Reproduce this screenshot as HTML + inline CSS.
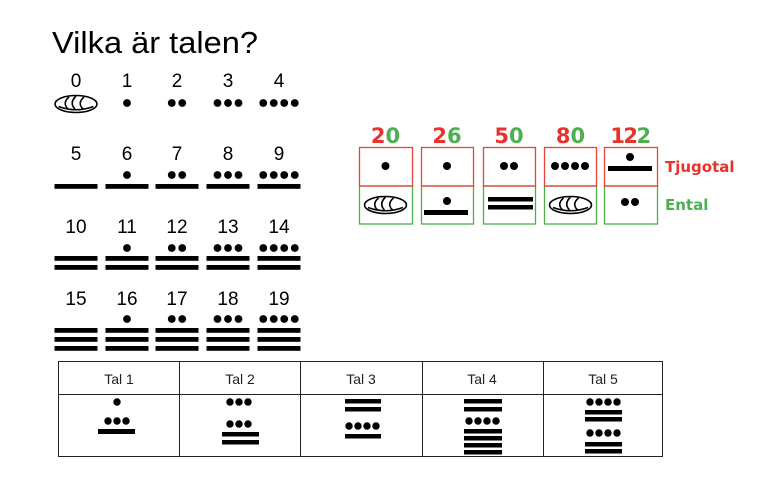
<!DOCTYPE html>
<html><head><meta charset="utf-8"><style>
html,body{margin:0;padding:0;background:#fff;}
svg{display:block;}
</style></head><body>
<svg width="782" height="486" viewBox="0 0 782 486" xmlns="http://www.w3.org/2000/svg">
<defs>
<g id="shell" fill="none" stroke="#000" stroke-width="1.6">
<ellipse cx="0" cy="0" rx="21" ry="8.5"/>
<path d="M-17.5,2.5 Q0,9 17.5,2.5"/>
<path d="M-7,-7 Q-14,-1 -8,5"/>
<path d="M0,-8 Q-7,-1 -1,5"/>
<path d="M8,-7 Q1,-1 7,5"/>
</g>
</defs>
<text x="52" y="53" font-family="Liberation Sans, sans-serif" font-size="31" textLength="206" lengthAdjust="spacingAndGlyphs">Vilka är talen?</text>

<g font-family="Liberation Sans, sans-serif" font-size="19" text-anchor="middle" fill="#000">
<text x="76" y="87">0</text><text x="127" y="87">1</text><text x="177" y="87">2</text><text x="228" y="87">3</text><text x="279" y="87">4</text>
<text x="76" y="160">5</text><text x="127" y="160">6</text><text x="177" y="160">7</text><text x="228" y="160">8</text><text x="279" y="160">9</text>
<text x="76" y="233">10</text><text x="127" y="233">11</text><text x="177" y="233">12</text><text x="228" y="233">13</text><text x="279" y="233">14</text>
<text x="76" y="305">15</text><text x="127" y="305">16</text><text x="177" y="305">17</text><text x="228" y="305">18</text><text x="279" y="305">19</text>
</g>
<use href="#shell" x="76" y="104"/>
<g fill="#000">
<g id="dr1">
<circle cx="127" cy="103" r="3.9"/>
<circle cx="171.75" cy="103" r="3.9"/><circle cx="182.25" cy="103" r="3.9"/>
<circle cx="217.5" cy="103" r="3.9"/><circle cx="228" cy="103" r="3.9"/><circle cx="238.5" cy="103" r="3.9"/>
<circle cx="263.25" cy="103" r="3.9"/><circle cx="273.75" cy="103" r="3.9"/><circle cx="284.25" cy="103" r="3.9"/><circle cx="294.75" cy="103" r="3.9"/>
</g>
<use href="#dr1" y="72"/>
<use href="#dr1" y="145"/>
<use href="#dr1" y="216"/>
<g id="br">
<rect x="54.5" y="184" width="43" height="4.8"/><rect x="105.5" y="184" width="43" height="4.8"/><rect x="155.5" y="184" width="43" height="4.8"/><rect x="206.5" y="184" width="43" height="4.8"/><rect x="257.5" y="184" width="43" height="4.8"/>
</g>
<use href="#br" y="72"/><use href="#br" y="81"/>
<use href="#br" y="144"/><use href="#br" y="153"/><use href="#br" y="162"/>
</g>

<g fill="none" stroke-width="1.3">
<g stroke="#4caf50">
<rect x="359.5" y="186" width="53" height="38"/><rect x="421.5" y="186" width="52" height="38"/><rect x="483.5" y="186" width="52" height="38"/><rect x="544.5" y="186" width="52" height="38"/><rect x="604.5" y="186" width="53" height="38"/>
</g>
<g stroke="#e8433a">
<rect x="359.5" y="147.5" width="53" height="38.5"/><rect x="421.5" y="147.5" width="52" height="38.5"/><rect x="483.5" y="147.5" width="52" height="38.5"/><rect x="544.5" y="147.5" width="52" height="38.5"/><rect x="604.5" y="147.5" width="53" height="38.5"/>
</g>
</g>
<g fill="#000">
<circle cx="385.5" cy="166" r="4"/>
<circle cx="447" cy="166" r="4"/>
<circle cx="504" cy="166" r="4"/><circle cx="514" cy="166" r="4"/>
<circle cx="555" cy="166" r="4"/><circle cx="565" cy="166" r="4"/><circle cx="575" cy="166" r="4"/><circle cx="585" cy="166" r="4"/>
<circle cx="630" cy="157" r="4"/><rect x="608" y="166" width="44" height="5"/>
<circle cx="447" cy="201" r="4"/><rect x="424" y="210" width="44" height="5"/>
<rect x="488" y="197" width="45" height="4.5"/><rect x="488" y="205" width="45" height="4.5"/>
<circle cx="625" cy="202" r="4"/><circle cx="635" cy="202" r="4"/>
</g>
<use href="#shell" x="385.5" y="205"/>
<use href="#shell" x="570.5" y="205"/>
<g font-family="DejaVu Sans, sans-serif" font-weight="bold" font-size="21" text-anchor="middle">
<text x="385.5" y="143"><tspan fill="#e8322c">2</tspan><tspan fill="#4caf50">0</tspan></text>
<text x="447" y="143"><tspan fill="#e8322c">2</tspan><tspan fill="#4caf50">6</tspan></text>
<text x="509" y="143"><tspan fill="#e8322c">5</tspan><tspan fill="#4caf50">0</tspan></text>
<text x="570.5" y="143"><tspan fill="#e8322c">8</tspan><tspan fill="#4caf50">0</tspan></text>
<text x="630" y="143" letter-spacing="-1.5"><tspan fill="#e8322c">12</tspan><tspan fill="#4caf50">2</tspan></text>
</g>
<g font-family="DejaVu Sans, sans-serif" font-weight="bold" font-size="15">
<text x="665" y="172" fill="#e8322c">Tjugotal</text>
<text x="665" y="210" fill="#4caf50">Ental</text>
</g>

<g fill="none" stroke="#222" stroke-width="1">
<rect x="58.5" y="361.5" width="604" height="95"/>
<line x1="58.5" y1="394.5" x2="662.5" y2="394.5"/>
<line x1="179.5" y1="361.5" x2="179.5" y2="456.5"/>
<line x1="300.5" y1="361.5" x2="300.5" y2="456.5"/>
<line x1="422.5" y1="361.5" x2="422.5" y2="456.5"/>
<line x1="543.5" y1="361.5" x2="543.5" y2="456.5"/>
</g>
<g font-family="Liberation Sans, sans-serif" font-size="14" text-anchor="middle" fill="#222">
<text x="119" y="384">Tal 1</text><text x="240" y="384">Tal 2</text><text x="361" y="384">Tal 3</text><text x="482" y="384">Tal 4</text><text x="603" y="384">Tal 5</text>
</g>
<g fill="#000">
<circle cx="117" cy="402" r="3.7"/>
<circle cx="108" cy="421" r="3.7"/><circle cx="117" cy="421" r="3.7"/><circle cx="126" cy="421" r="3.7"/>
<rect x="98" y="429" width="37" height="5"/>
<circle cx="230" cy="402" r="3.7"/><circle cx="239" cy="402" r="3.7"/><circle cx="248" cy="402" r="3.7"/>
<circle cx="230" cy="424" r="3.7"/><circle cx="239" cy="424" r="3.7"/><circle cx="248" cy="424" r="3.7"/>
<rect x="222" y="432" width="37" height="4.5"/><rect x="222" y="440" width="37" height="4.5"/>
<rect x="345" y="399" width="36" height="4.5"/><rect x="345" y="407" width="36" height="4.5"/>
<circle cx="349" cy="426" r="3.7"/><circle cx="358" cy="426" r="3.7"/><circle cx="367" cy="426" r="3.7"/><circle cx="376" cy="426" r="3.7"/>
<rect x="345" y="434" width="36" height="4.5"/>
<rect x="464" y="399" width="38" height="4.5"/><rect x="464" y="407" width="38" height="4.5"/>
<circle cx="469" cy="421" r="3.7"/><circle cx="478" cy="421" r="3.7"/><circle cx="487" cy="421" r="3.7"/><circle cx="496" cy="421" r="3.7"/>
<rect x="464" y="429" width="38" height="4.5"/><rect x="464" y="436" width="38" height="4.5"/><rect x="464" y="443" width="38" height="4.5"/><rect x="464" y="450" width="38" height="4.5"/>
<circle cx="590" cy="402" r="3.7"/><circle cx="599" cy="402" r="3.7"/><circle cx="608" cy="402" r="3.7"/><circle cx="617" cy="402" r="3.7"/>
<rect x="585" y="410" width="37" height="4.5"/><rect x="585" y="417" width="37" height="4.5"/>
<circle cx="590" cy="433" r="3.7"/><circle cx="599" cy="433" r="3.7"/><circle cx="608" cy="433" r="3.7"/><circle cx="617" cy="433" r="3.7"/>
<rect x="585" y="442" width="37" height="4.5"/><rect x="585" y="449" width="37" height="4.5"/>
</g>
</svg>
</body></html>
